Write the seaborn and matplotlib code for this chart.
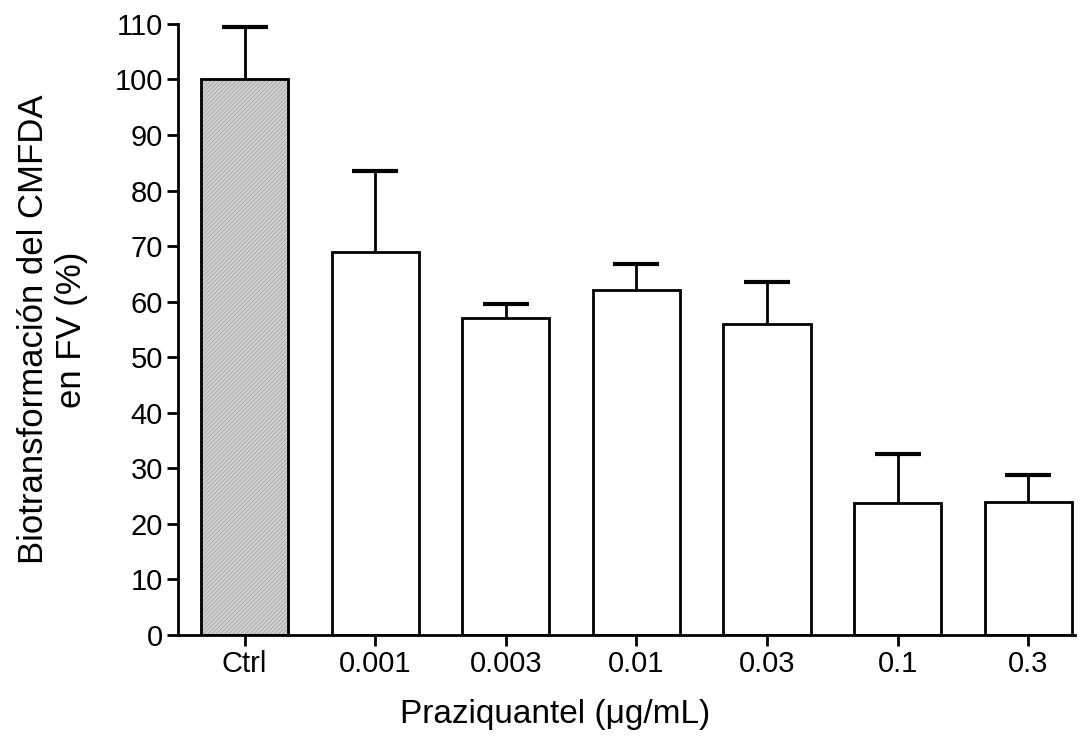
import matplotlib
matplotlib.use("Agg")
import matplotlib.pyplot as plt
from matplotlib.patches import Rectangle
import seaborn as sns
import pandas as pd
import numpy as np

# values
groups = ["Ctrl", "0.001", "0.003", "0.01", "0.03", "0.1", "0.3"]
means = [100.0, 69.0, 57.1, 62.1, 56.0, 23.8, 23.9]
upper = [109.5, 83.5, 59.6, 66.8, 63.5, 32.5, 28.8]
sem = [u - m for u, m in zip(upper, means)]

df = pd.DataFrame({"grupo": groups, "valor": means})

sns.set_style("ticks")
plt.rcParams["font.family"] = ["Liberation Sans", "DejaVu Sans"]
plt.rcParams["hatch.linewidth"] = 0.6
plt.rcParams["text.color"] = "black"
plt.rcParams["axes.labelcolor"] = "black"
plt.rcParams["xtick.color"] = "black"
plt.rcParams["ytick.color"] = "black"
plt.rcParams["axes.edgecolor"] = "black"

fig = plt.figure(figsize=(10.81, 7.49), dpi=100)
ax = fig.add_axes([0.1647, 0.1522, 0.83, 0.816])

sns.barplot(data=df, x="grupo", y="valor", color="white", width=0.667,
            edgecolor="black", linewidth=2, ax=ax, errorbar=None, zorder=2)
for i, p in enumerate(ax.patches):
    p.set_facecolor("white")
    if i == 0:
        # hatch takes the edge colour, so use a grey edge and redraw the outline
        p.set_facecolor("#d0d0d0")
        p.set_edgecolor("#a6a6a6")
        p.set_hatch("////////")
        ax.add_patch(Rectangle(p.get_xy(), p.get_width(), p.get_height(),
                               fill=False, ec="black", lw=2, zorder=3))

x = np.arange(len(groups))
eb = ax.errorbar(x, means, yerr=[np.zeros(len(sem)), sem], fmt="none",
                 ecolor="black", elinewidth=2, capsize=16.5, capthick=3, zorder=1)
# only upper caps
eb[1][0].set_visible(False)

ax.set_ylim(0, 110)
ax.set_yticks(np.arange(0, 111, 10))
ax.set_xlim(-0.51, 6.36)

for s in ["top", "right"]:
    ax.spines[s].set_visible(False)
for s in ["left", "bottom"]:
    ax.spines[s].set_linewidth(2)

ax.tick_params(axis="both", direction="out", length=8, width=2, labelsize=21, pad=3)
ax.set_xlabel("Praziquantel (μg/mL)", fontsize=24)
ax.xaxis.set_label_coords(0.42, -0.105)
ax.set_ylabel("Biotransformación del CMFDA\nen FV (%)", fontsize=25, labelpad=19)

fig.savefig("out.png", dpi=100)
